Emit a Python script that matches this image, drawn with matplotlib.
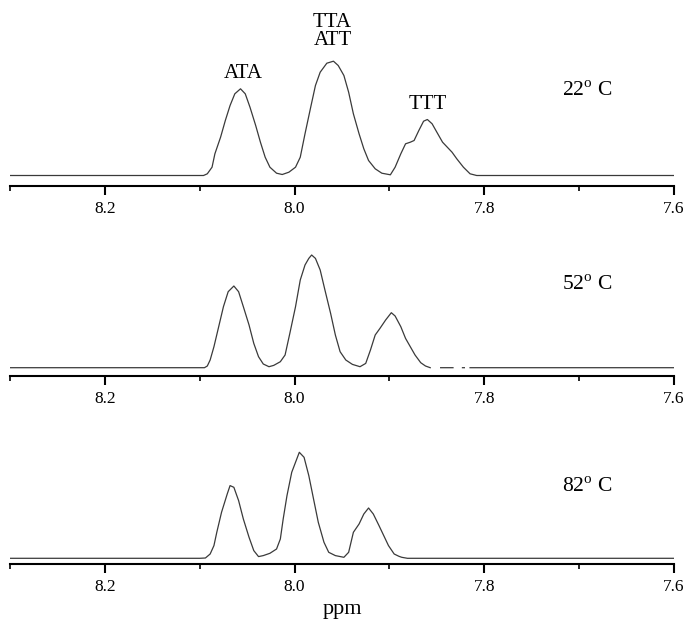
import numpy as np
import matplotlib
matplotlib.use('Agg')
import matplotlib.pyplot as plt
from matplotlib.ticker import MultipleLocator

plt.rcParams['font.family'] = ['Liberation Serif', 'DejaVu Serif']
plt.rcParams['mathtext.fontset'] = 'custom'
plt.rcParams['mathtext.rm'] = 'Liberation Serif'

# 22 C spectrum (ppm, intensity)
ppm_22 = [8.300, 8.096, 8.092, 8.087, 8.084, 8.078, 8.073, 8.068, 8.063, 8.057,
          8.052, 8.047, 8.041, 8.036, 8.031, 8.026, 8.019, 8.013, 8.006, 7.999,
          7.994, 7.989, 7.983, 7.978, 7.973, 7.966, 7.959, 7.954, 7.948, 7.943,
          7.938, 7.932, 7.927, 7.922, 7.915, 7.908, 7.899, 7.894, 7.888, 7.883,
          7.878, 7.874, 7.869, 7.864, 7.860, 7.855, 7.850, 7.844, 7.839, 7.834,
          7.829, 7.822, 7.815, 7.808, 7.600]
int_22 = [0, 0, 1.7, 8.3, 21.7, 38.3, 55, 70, 81.7, 86.7,
          81.7, 68.3, 50, 33.3, 18.3, 8.3, 2.3, 1, 3.3, 8.3,
          18.3, 41.7, 68.3, 90, 103.3, 112.3, 114.3, 110, 100, 83.3,
          61.7, 41.7, 26.7, 15, 6.7, 2.3, 0.7, 8.3, 21.7, 31.7,
          33.3, 35, 45, 54.3, 56, 51.7, 43.3, 33.3, 28.3, 23.3,
          16.7, 8.3, 1.7, 0, 0]

# 52 C spectrum (baseline broken to the right of the TTT peak)
ppm_52 = [8.300, 8.095, 8.092, 8.089, 8.085, 8.080, 8.075, 8.070, 8.064, 8.059,
          8.054, 8.048, 8.043, 8.038, 8.033, 8.027, 8.022, 8.015, 8.010, 8.005,
          7.999, 7.994, 7.989, 7.985, 7.982, 7.978, 7.973, 7.968, 7.962, 7.957,
          7.952, 7.946, 7.939, 7.931, 7.925, 7.920, 7.915, 7.910, 7.904, 7.898,
          7.894, 7.888, 7.883, 7.878, 7.873, 7.867, 7.862, 7.857,
          7.850, 7.846, 7.833, 7.830, 7.823, 7.821, 7.818, 7.815, 7.600]
int_52 = [0, 0, 1.7, 7.7, 21, 41, 61, 76, 81.7, 76,
          61, 42.7, 24.3, 11, 3.7, 1, 2.3, 6, 12.7, 34.3,
          61, 87.7, 102.7, 109.3, 112.7, 109.3, 97.7, 77.7, 54.3, 32.7,
          16, 7.7, 3.3, 1, 4.3, 17.7, 32.7, 39.3, 47.7, 55,
          51.7, 41, 29.3, 21, 12.7, 5, 1.7, 0,
          np.nan, 0, 0, np.nan, 0, 0, np.nan, 0, 0]

# 82 C spectrum
ppm_82 = [8.300, 8.100, 8.094, 8.089, 8.085, 8.082, 8.077, 8.071, 8.068, 8.064,
          8.059, 8.054, 8.048, 8.043, 8.038, 8.033, 8.026, 8.019, 8.015, 8.012,
          8.008, 8.003, 7.997, 7.995, 7.990, 7.985, 7.980, 7.975, 7.969, 7.964,
          7.957, 7.948, 7.943, 7.938, 7.932, 7.927, 7.922, 7.917, 7.911, 7.906,
          7.901, 7.895, 7.890, 7.887, 7.881, 7.600]
int_82 = [0, 0, 0.3, 4.3, 12.7, 26, 46, 64.3, 72.7, 71,
          57.7, 39.3, 21, 7.7, 1.7, 2.7, 5, 9.3, 19.3, 39.3,
          62.7, 86, 101, 106, 101, 82.7, 59.3, 36, 16, 6,
          2.7, 1, 6, 26, 34.3, 44.3, 50.3, 44.3, 32.7, 22.7,
          12.7, 4.3, 2, 1, 0, 0]

temps = ['22', '52', '82']
spectra = [(ppm_22, int_22), (ppm_52, int_52), (ppm_82, int_82)]

W, H = 687, 620
fig = plt.figure(figsize=(W / 100, H / 100), dpi=100)

spine_px = [186, 376, 564]
offsets = [10.5, 8.3, 5.7]
temp_y = [84, 82, 71]
ax_h = 180

for i, (x, y) in enumerate(spectra):
    ax = fig.add_axes([10 / W, 1 - spine_px[i] / H, 664 / W, ax_h / H])
    ax.patch.set_alpha(0)
    ax.plot(x, y, color='#3a3a3a', lw=0.9)
    ax.set_xlim(8.3, 7.6)
    ax.set_ylim(-offsets[i], ax_h - offsets[i])
    for s in ['top', 'left', 'right']:
        ax.spines[s].set_visible(False)
    ax.spines['bottom'].set_linewidth(1.5)
    ax.set_yticks([])
    ax.xaxis.set_major_locator(MultipleLocator(0.2))
    ax.xaxis.set_minor_locator(MultipleLocator(0.1))
    ax.tick_params(axis='x', which='major', length=6.5, width=1.5,
                   labelsize=12.5, pad=4)
    ax.tick_params(axis='x', which='minor', length=3.5, width=1.2)
    ax.set_xticks([8.2, 8.0, 7.8, 7.6])
    ax.set_xticklabels(['8.2', '8.0', '7.8', '7.6'])
    ax.text(7.692, temp_y[i], temps[i] + r'$^{\mathrm{o}}$ C',
            ha='center', va='center', fontsize=15.5)
    if i == 0:
        ax.text(8.054, 102, 'ATA', ha='center', va='center', fontsize=15)
        ax.text(7.960, 153, 'TTA', ha='center', va='center', fontsize=15)
        ax.text(7.960, 135, 'ATT', ha='center', va='center', fontsize=15)
        ax.text(7.860, 71, 'TTT', ha='center', va='center', fontsize=15)

fig.text(342 / W, 1 - 614 / H, 'ppm', ha='center', va='baseline', fontsize=16)

plt.savefig('out.png', dpi=100)
